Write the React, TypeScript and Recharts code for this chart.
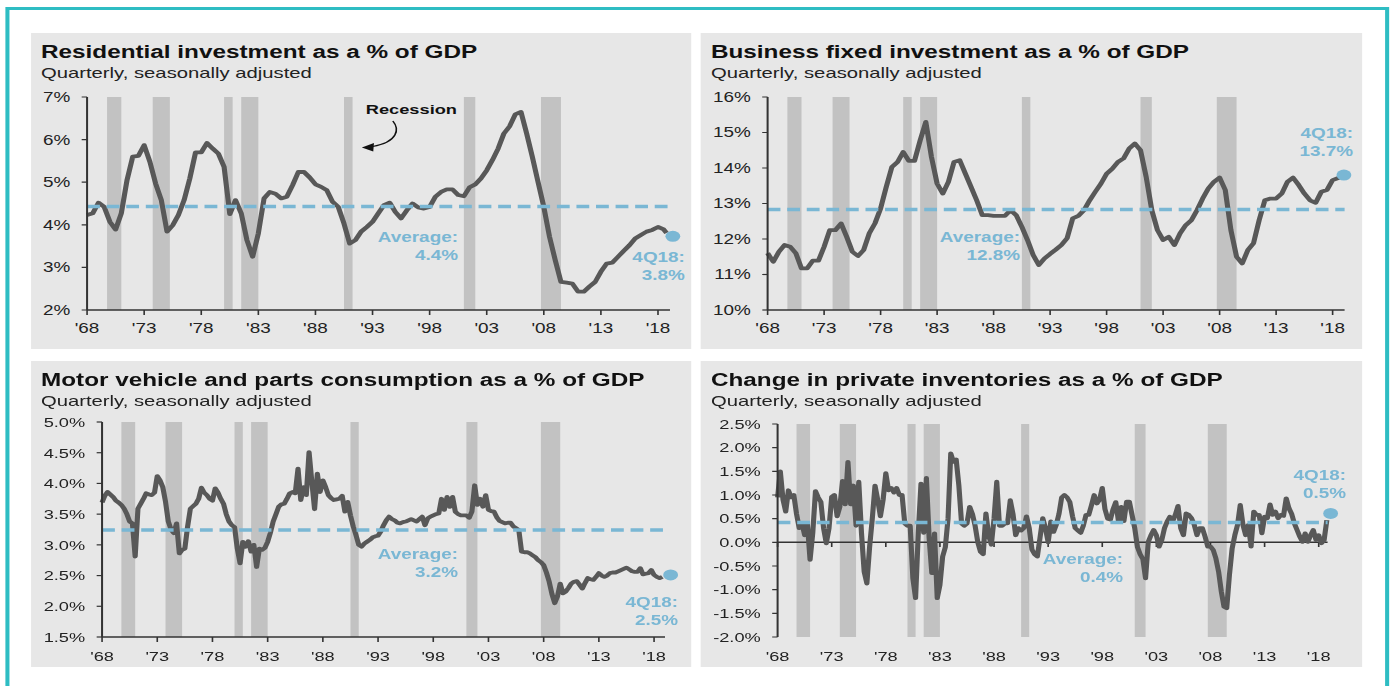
import React from "react";
import {
  LineChart,
  Line,
  XAxis,
  YAxis,
  ReferenceArea,
  ReferenceLine,
  ReferenceDot,
} from "recharts";

// the source picture is stretched sideways, so the page is laid out narrow and scaled in x
const STRETCH = 1.35;
const PAGE_W = 1391;
const PAGE_H = 686;

const TEAL = "#2EBDC3";
const PANEL_BG = "#E7E7E7";
const BAND = "#C2C2C2";
const LINE = "#585858";
const BLUE = "#7AB7D4";
const AXIS = "#333333";
const FONT = '"Liberation Sans", Arial, Helvetica, sans-serif';

const yearTicks = [1968, 1973, 1978, 1983, 1988, 1993, 1998, 2003, 2008, 2013, 2018];

const recessions: [number, number][] = [
  [1969.75, 1971.0],
  [1973.75, 1975.25],
  [1980.0, 1980.75],
  [1981.5, 1983.0],
  [1990.5, 1991.25],
  [2001.0, 2002.0],
  [2007.75, 2009.5],
];

// half-year samples 1968.0 .. 2018.5, then 4Q18
const halfYearDates = Array.from({ length: 102 }, (_, i) => 1968 + i * 0.5).concat([2018.75]);
// quarterly samples 1Q68 .. 4Q18
const quarterDates = Array.from({ length: 204 }, (_, i) => 1968 + i * 0.25);

const residentialValues = [
  4.23, 4.27, 4.52, 4.42, 4.07, 3.89, 4.27, 5.05, 5.6, 5.62,
  5.87, 5.48, 4.97, 4.58, 3.84, 3.99, 4.23, 4.58, 5.09, 5.7,
  5.7, 5.92, 5.79, 5.67, 5.36, 4.25, 4.58, 4.27, 3.64, 3.25,
  3.8, 4.62, 4.77, 4.73, 4.62, 4.66, 4.93, 5.24, 5.24, 5.11,
  4.95, 4.89, 4.81, 4.54, 4.42, 4.03, 3.56, 3.64, 3.84, 3.95,
  4.07, 4.27, 4.46, 4.52, 4.3, 4.15, 4.34, 4.5, 4.41, 4.38,
  4.42, 4.66, 4.77, 4.83, 4.83, 4.7, 4.67, 4.88, 4.95, 5.09,
  5.28, 5.52, 5.79, 6.14, 6.31, 6.59, 6.65, 6.14, 5.59, 5.0,
  4.42, 3.72, 3.17, 2.66, 2.64, 2.62, 2.43, 2.43, 2.55, 2.66,
  2.9, 3.09, 3.11, 3.25, 3.39, 3.52, 3.68, 3.76, 3.84, 3.88,
  3.95, 3.89, 3.81,
];

const businessValues = [
  11.6, 11.36, 11.64, 11.83, 11.78, 11.6, 11.17, 11.17, 11.39, 11.39,
  11.78, 12.25, 12.25, 12.44, 12.06, 11.64, 11.52, 11.69, 12.16, 12.44,
  12.86, 13.47, 14.03, 14.17, 14.45, 14.2, 14.2, 14.78, 15.3, 14.31,
  13.56, 13.28, 13.61, 14.17, 14.22, 13.84, 13.47, 13.09, 12.67, 12.67,
  12.65, 12.65, 12.65, 12.81, 12.67, 12.34, 11.97, 11.55, 11.27, 11.45,
  11.58, 11.7, 11.83, 12.02, 12.58, 12.65, 12.81, 13.09, 13.33, 13.56,
  13.84, 13.98, 14.17, 14.27, 14.55, 14.69, 14.5, 13.75, 12.81, 12.25,
  11.97, 12.06, 11.83, 12.16, 12.39, 12.53, 12.81, 13.14, 13.42, 13.61,
  13.73, 13.38, 12.25, 11.5, 11.31, 11.69, 11.88, 12.53, 13.09, 13.14,
  13.14, 13.28, 13.61, 13.73, 13.52, 13.28, 13.09, 13.02, 13.33, 13.38,
  13.66, 13.72, 13.77,
];

const motorValues = [
  3.69, 3.8, 3.86, 3.82, 3.78, 3.72, 3.69, 3.65, 3.59, 3.5, 3.38, 3.35,
  2.81, 3.59, 3.67, 3.75, 3.84, 3.82, 3.81, 3.85, 4.12, 4.05, 3.94, 3.7,
  3.38, 3.25, 3.19, 3.35, 2.86, 2.92, 2.94, 3.3, 3.59, 3.63, 3.67, 3.75,
  3.93, 3.85, 3.81, 3.75, 3.72, 3.92, 3.85, 3.75, 3.67, 3.5, 3.38, 3.32,
  3.29, 2.94, 2.7, 3.05, 2.97, 3.06, 2.89, 3.0, 2.64, 2.94, 2.92, 2.95,
  3.05, 3.2, 3.38, 3.5, 3.62, 3.66, 3.67, 3.75, 3.84, 3.86, 3.84, 4.24,
  3.73, 3.94, 3.81, 4.51, 4.03, 3.58, 4.16, 3.86, 4.05, 3.94, 3.81, 3.76,
  3.73, 3.74, 3.75, 3.8, 3.54, 3.7, 3.48, 3.3, 3.16, 3.0, 2.97, 3.02,
  3.05, 3.08, 3.12, 3.14, 3.15, 3.22, 3.32, 3.4, 3.46, 3.42, 3.4, 3.36,
  3.35, 3.37, 3.38, 3.4, 3.42, 3.4, 3.38, 3.42, 3.46, 3.32, 3.43, 3.46,
  3.48, 3.5, 3.51, 3.75, 3.57, 3.78, 3.62, 3.78, 3.54, 3.5, 3.48, 3.48,
  3.48, 3.44, 3.54, 3.97, 3.65, 3.75, 3.62, 3.81, 3.57, 3.55, 3.54, 3.45,
  3.39, 3.37, 3.35, 3.36, 3.36, 3.3, 3.27, 3.24, 2.89, 2.88, 2.88, 2.86,
  2.83, 2.8, 2.75, 2.72, 2.67, 2.55, 2.4, 2.2, 2.05, 2.16, 2.37, 2.21,
  2.24, 2.3, 2.37, 2.4, 2.41, 2.35, 2.29, 2.38, 2.46, 2.44, 2.43, 2.48,
  2.54, 2.5, 2.48, 2.5, 2.54, 2.55, 2.55, 2.57, 2.59, 2.61, 2.63, 2.6,
  2.57, 2.56, 2.56, 2.62, 2.52, 2.53, 2.54, 2.59, 2.51, 2.48, 2.46, 2.48,
];

const inventoryValues = [
  0.95, 1.5, 0.9, 0.65, 1.1, 0.95, 1.0, 0.6, 0.3, 0.4, 0.15, 0.4,
  -0.37, 0.2, 1.08, 0.95, 0.85, 0.3, -0.02, 0.3, 0.96, 1.0, 0.55, 0.75,
  1.3, 0.8, 1.7, 0.8, 1.2, 0.35, 1.28, 0.2, -0.62, -0.87, -0.1, 0.5,
  1.2, 0.9, 0.55, 0.9, 1.46, 1.1, 1.15, 1.05, 1.15, 1.0, 1.0, 0.4,
  0.35, 0.35, -0.76, -1.18, 0.2, 1.24, 0.2, 1.36, 0.1, -0.65, 0.19, -1.18,
  -0.9, -0.3, -0.1, 0.5, 1.88, 1.7, 1.75, 1.2, 0.4, 0.35, 0.4, 0.75,
  0.6, 0.35, 0.0, -0.2, -0.25, 0.61, 0.15, -0.05, 0.5, 1.28, 0.35, 0.35,
  0.4, 0.4, 0.89, 0.6, 0.15, 0.3, 0.25, 0.3, 0.55, 0.3, -0.15, -0.25,
  -0.3, 0.1, 0.51, 0.3, 0.0, 0.44, 0.22, 0.37, 0.6, 0.95, 1.0, 0.95,
  0.85, 0.55, 0.3, 0.25, 0.2, 0.35, 0.58, 0.58, 0.78, 1.0, 0.82, 0.9,
  1.15, 0.7, 0.5, 0.48, 0.7, 0.85, 0.44, 0.75, 0.45, 0.86, 0.86, 0.58,
  0.3, -0.1, -0.25, -0.35, -0.76, 0.01, 0.15, 0.26, 0.15, -0.09, 0.05, 0.3,
  0.44, 0.54, 0.44, 0.58, 0.77, 0.3, 0.15, 0.61, 0.58, 0.51, 0.37, 0.15,
  0.3, 0.3, 0.12, -0.09, -0.09, -0.16, -0.34, -0.62, -1.04, -1.36, -1.39, -0.69,
  -0.13, 0.15, 0.37, 0.79, 0.37, 0.15, 0.37, -0.09, 0.65, 0.58, 0.58, 0.19,
  0.54, 0.51, 0.8, 0.58, 0.65, 0.51, 0.58, 0.56, 0.93, 0.72, 0.6, 0.4,
  0.26, 0.12, 0.01, 0.19, 0.01, 0.15, 0.26, 0.05, 0.15, -0.02, 0.05, 0.47,
];

const residentialAverage = 4.43;
const businessAverage = 12.83;
const motorAverage = 3.24;
const inventoryAverage = 0.42;

const wholeTicks = (from: number, to: number) => {
  const out: number[] = [];
  for (let v = from; v <= to + 1e-9; v += 1) out.push(v);
  return out;
};
const halfTicks = (from: number, to: number) => {
  const out: number[] = [];
  for (let v = from; v <= to + 1e-9; v += 0.5) out.push(Math.round(v * 10) / 10);
  return out;
};

interface PanelProps {
  left: number;
  top: number;
  width: number;
  height: number;
  title: string;
  dates: number[];
  values: number[];
  average: number;
  dot: [number, number];
  yDomain: [number, number];
  yTicks: number[];
  yFormat: (v: number) => string;
  tickFont: number;
  axisLeft: number;
  plotRight: number;
  plotTop: number;
  plotBottom: number;
  xEnd: number;
  xTickMargin: number;
  zeroAxis?: boolean;
  avgLabel: { right: number; top: number; lines: string[] };
  lastLabel: { right: number; top: number; lines: string[] };
  children?: React.ReactNode;
}

const yearLabel = (y: number) => "'" + String(y).slice(2);

const Note = ({ right, top, lines, width }: { right: number; top: number; lines: string[]; width: number }) => (
  <div
    style={{
      position: "absolute",
      right: width - right,
      top,
      textAlign: "right",
      color: BLUE,
      fontWeight: 700,
      fontSize: 14,
      lineHeight: "18px",
      whiteSpace: "nowrap",
    }}
  >
    {lines.map((l) => (
      <div key={l}>{l}</div>
    ))}
  </div>
);

const Panel = (p: PanelProps) => {
  const data = p.dates.map((t, i) => ({ t, v: p.values[i] }));
  const tickStyle = { fontSize: p.tickFont, fill: "#222", fontFamily: FONT };
  return (
    <div
      style={{
        position: "absolute",
        left: p.left,
        top: p.top,
        width: p.width,
        height: p.height,
        background: PANEL_BG,
      }}
    >
      <div style={{ position: "absolute", left: 0, top: 0 }}>
        <LineChart
          width={p.width}
          height={p.height}
          data={data}
          margin={{ top: p.plotTop, right: p.width - p.plotRight, bottom: p.height - p.plotBottom - 30, left: 0 }}
        >
          <XAxis
            type="number"
            dataKey="t"
            domain={[1968, p.xEnd]}
            ticks={yearTicks}
            interval={0}
            tickFormatter={yearLabel}
            height={30}
            tickSize={5}
            tickMargin={p.xTickMargin}
            tick={tickStyle}
            axisLine={p.zeroAxis ? false : { stroke: AXIS, strokeWidth: 1.5 }}
            tickLine={p.zeroAxis ? false : { stroke: AXIS, strokeWidth: 1.2 }}
          />
          <YAxis
            type="number"
            domain={p.yDomain}
            ticks={p.yTicks}
            interval={0}
            tickFormatter={p.yFormat}
            width={p.axisLeft}
            tickSize={4}
            tickMargin={8.5}
            tick={tickStyle}
            axisLine={{ stroke: AXIS, strokeWidth: 1.5 }}
            tickLine={{ stroke: AXIS, strokeWidth: 1.2 }}
          />
          {recessions.map(([a, b]) => (
            <ReferenceArea key={a} x1={a} x2={b} fill={BAND} fillOpacity={1} stroke="none" ifOverflow="hidden" />
          ))}
          {p.zeroAxis && <ReferenceLine y={0} stroke={AXIS} strokeWidth={1.5} />}
          {p.zeroAxis &&
            yearTicks.map((yr) => (
              <ReferenceLine
                key={"z" + yr}
                segment={[
                  { x: yr, y: 0 },
                  { x: yr, y: -0.1 },
                ]}
                stroke={AXIS}
                strokeWidth={1.2}
              />
            ))}
          <Line
            type="linear"
            dataKey="v"
            stroke={LINE}
            strokeWidth={3.8}
            dot={false}
            strokeLinejoin="round"
            isAnimationActive={false}
          />
          <ReferenceLine y={p.average} stroke={BLUE} strokeWidth={3.5} strokeDasharray="9.5 5" />
          <ReferenceDot
            x={p.dot[0]}
            y={p.dot[1]}
            r={5.5}
            fill={BLUE}
            stroke="none"
            ifOverflow="visible"
          />
        </LineChart>
      </div>
      <div
        style={{
          position: "absolute",
          left: 7.4,
          top: 9.6,
          fontSize: 18,
          lineHeight: "18px",
          fontWeight: 700,
          color: "#111",
          whiteSpace: "nowrap",
        }}
      >
        {p.title}
      </div>
      <div
        style={{
          position: "absolute",
          left: 7.4,
          top: 31.7,
          fontSize: 15,
          lineHeight: "15px",
          color: "#222",
          whiteSpace: "nowrap",
        }}
      >
        Quarterly, seasonally adjusted
      </div>
      <Note width={p.width} {...p.avgLabel} />
      <Note width={p.width} {...p.lastLabel} />
      {p.children}
    </div>
  );
};

const App = () => {
  const leftX = 31 / STRETCH;
  const rightX = 701 / STRETCH;
  const leftW = 660 / STRETCH;
  const rightW = 661 / STRETCH;
  return (
    <div
      style={{
        position: "absolute",
        left: 0,
        top: 0,
        width: PAGE_W,
        height: PAGE_H,
        background: "#fff",
        overflow: "hidden",
      }}
    >
      <div
        style={{
          position: "absolute",
          left: 0,
          top: 0,
          width: PAGE_W / STRETCH,
          height: PAGE_H,
          transform: `scaleX(${STRETCH})`,
          transformOrigin: "0 0",
          fontFamily: FONT,
        }}
      >
        <div
          style={{
            position: "absolute",
            left: 5 / STRETCH,
            top: 7,
            width: 1384 / STRETCH,
            height: 720,
            border: `3px solid ${TEAL}`,
            boxSizing: "border-box",
          }}
        />
        <Panel
          left={leftX}
          top={33}
          width={leftW}
          height={316}
          title="Residential investment as a % of GDP"
          dates={halfYearDates}
          values={residentialValues}
          average={residentialAverage}
          dot={[2019.3, 3.73]}
          yDomain={[2, 7]}
          yTicks={wholeTicks(2, 7)}
          yFormat={(v) => v + "%"}
          tickFont={14}
          axisLeft={41.5}
          plotRight={473.3}
          plotTop={64}
          plotBottom={277}
          xEnd={2019.05}
          xTickMargin={8.5}
          avgLabel={{ right: 316.3, top: 195, lines: ["Average:", "4.4%"] }}
          lastLabel={{ right: 484.4, top: 215, lines: ["4Q18:", "3.8%"] }}
        >
          <div
            style={{
              position: "absolute",
              left: 248,
              top: 70,
              fontSize: 13.5,
              lineHeight: "13.5px",
              fontWeight: 700,
              color: "#111",
              whiteSpace: "nowrap",
            }}
          >
            Recession
          </div>
          <svg
            width={leftW}
            height={316}
            style={{ position: "absolute", left: 0, top: 0, pointerEvents: "none" }}
          >
            <path d="M 268 88 C 273 96, 272 109, 253 113.5" fill="none" stroke="#111" strokeWidth={1.2} />
            <path d="M 245 114.5 L 254 110 L 253.5 118.5 Z" fill="#111" />
          </svg>
        </Panel>
        <Panel
          left={rightX}
          top={33}
          width={rightW}
          height={316}
          title="Business fixed investment as a % of GDP"
          dates={halfYearDates}
          values={businessValues}
          average={businessAverage}
          dot={[2019.0, 13.8]}
          yDomain={[10, 16]}
          yTicks={wholeTicks(10, 16)}
          yFormat={(v) => v + "%"}
          tickFont={14}
          axisLeft={49.6}
          plotRight={477}
          plotTop={64}
          plotBottom={277}
          xEnd={2019.06}
          xTickMargin={8.5}
          avgLabel={{ right: 236.3, top: 195, lines: ["Average:", "12.8%"] }}
          lastLabel={{ right: 483, top: 91, lines: ["4Q18:", "13.7%"] }}
        />
        <Panel
          left={leftX}
          top={361}
          width={leftW}
          height={306}
          title="Motor vehicle and parts consumption as a % of GDP"
          dates={quarterDates}
          values={motorValues}
          average={motorAverage}
          dot={[2019.5, 2.51]}
          yDomain={[1.5, 5]}
          yTicks={halfTicks(1.5, 5)}
          yFormat={(v) => v.toFixed(1) + "%"}
          tickFont={13.5}
          axisLeft={52.6}
          plotRight={469.6}
          plotTop={61}
          plotBottom={276}
          xEnd={2018.99}
          xTickMargin={9}
          avgLabel={{ right: 316.3, top: 184, lines: ["Average:", "3.2%"] }}
          lastLabel={{ right: 479.3, top: 232, lines: ["4Q18:", "2.5%"] }}
        />
        <Panel
          left={rightX}
          top={361}
          width={rightW}
          height={306}
          title="Change in private inventories as a % of GDP"
          dates={quarterDates}
          values={inventoryValues}
          average={inventoryAverage}
          dot={[2019.1, 0.61]}
          yDomain={[-2, 2.5]}
          yTicks={halfTicks(-2, 2.5)}
          yFormat={(v) => v.toFixed(1) + "%"}
          tickFont={13.5}
          axisLeft={57}
          plotRight={464.4}
          plotTop={63}
          plotBottom={276}
          xEnd={2018.82}
          xTickMargin={9}
          zeroAxis
          avgLabel={{ right: 312.6, top: 189, lines: ["Average:", "0.4%"] }}
          lastLabel={{ right: 477.8, top: 105, lines: ["4Q18:", "0.5%"] }}
        />
      </div>
    </div>
  );
};

export default App;
